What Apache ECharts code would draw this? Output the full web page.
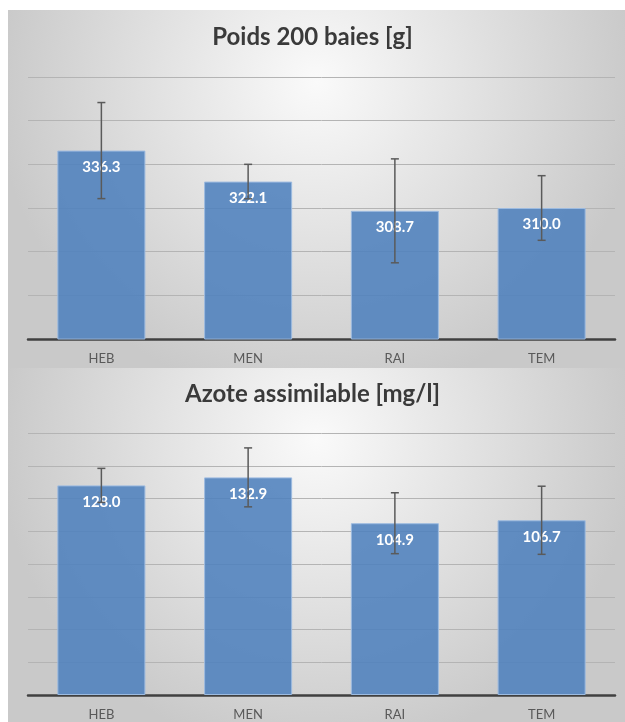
<!DOCTYPE html>
<html>
<head>
<meta charset="utf-8">
<script src="https://cdn.jsdelivr.net/npm/echarts@6/dist/echarts.min.js"></script>
<style>
  html, body { margin: 0; padding: 0; background: #fff; }
  #main { width: 625px; height: 722px; }
</style>
</head>
<body>
<div id="main"></div>
<script>
// data
var categories = ['HEB', 'MEN', 'RAI', 'TEM'];
var poidsValues = [336.3, 322.1, 308.7, 310.0];
var poidsErr = [22.0, 7.9, 23.8, 14.8];
var azoteValues = [128.0, 132.9, 104.9, 106.7];
var azoteErr = [10.4, 18.0, 18.6, 20.8];

var FONT = 'Lato, "Open Sans", sans-serif';

function panelBg() {
  return new echarts.graphic.RadialGradient(0.5, 0.2, 0.9, [
    { offset: 0, color: '#fafafa' },
    { offset: 1, color: '#c9c9c9' }
  ]);
}

function errData(vals, errs) {
  var out = [];
  for (var i = 0; i < vals.length; i++) out.push([i, vals[i], errs[i]]);
  return out;
}

function renderErr(params, api) {
  var x = api.value(0), v = api.value(1), e = api.value(2);
  var hi = api.coord([x, v + e]);
  var lo = api.coord([x, v - e]);
  var cap = 4;
  var st = { stroke: '#5a5a5a', lineWidth: 1.5 };
  return {
    type: 'group',
    children: [
      { type: 'line', shape: { x1: hi[0], y1: hi[1], x2: lo[0], y2: lo[1] }, style: st },
      { type: 'line', shape: { x1: hi[0] - cap, y1: hi[1], x2: hi[0] + cap, y2: hi[1] }, style: st },
      { type: 'line', shape: { x1: lo[0] - cap, y1: lo[1], x2: lo[0] + cap, y2: lo[1] }, style: st }
    ]
  };
}

function xAxisFor(gi) {
  return {
    type: 'category', gridIndex: gi, data: categories,
    axisLine: { lineStyle: { color: '#404040', width: 2.5 } },
    axisTick: { show: false },
    axisLabel: { color: '#595959', fontSize: 13, fontFamily: FONT, margin: 13 }
  };
}

function yAxisFor(gi, min, max) {
  return {
    type: 'value', gridIndex: gi, min: min, max: max, interval: 20,
    axisLine: { show: false }, axisTick: { show: false },
    axisLabel: { show: false },
    splitLine: { lineStyle: { color: '#b4b4b4', width: 1 } }
  };
}

function barSeries(idx, vals) {
  return {
    type: 'bar', xAxisIndex: idx, yAxisIndex: idx, data: vals,
    barWidth: '60%',
    itemStyle: { color: 'rgba(79,129,189,0.88)', borderColor: '#9dbbe0', borderWidth: 1 },
    label: {
      show: true, position: 'insideTop', distance: 9,
      color: '#ffffff', fontWeight: 'bold', fontSize: 15, fontFamily: FONT,
      formatter: function (p) { return p.value.toFixed(1); }
    },
    z: 2
  };
}

function errSeries(idx, vals, errs) {
  return {
    type: 'custom', xAxisIndex: idx, yAxisIndex: idx,
    data: errData(vals, errs), renderItem: renderErr,
    encode: { x: 0, y: 1 }, z: 3, silent: true
  };
}

var chart = echarts.init(document.getElementById('main'));
chart.setOption({
  animation: false,
  backgroundColor: '#ffffff',
  graphic: [
    { type: 'rect', shape: { x: 8, y: 10, width: 617, height: 358 }, style: { fill: panelBg() }, z: -10 },
    { type: 'rect', shape: { x: 8, y: 368, width: 617, height: 354 }, style: { fill: panelBg() }, z: -10 }
  ],
  title: [
    { text: 'Poids 200 baies [g]', left: 'center', top: 20,
      textStyle: { fontSize: 24, fontWeight: 'bold', color: '#3a3a3a', fontFamily: FONT } },
    { text: 'Azote assimilable [mg/l]', left: 'center', top: 377,
      textStyle: { fontSize: 24, fontWeight: 'bold', color: '#3a3a3a', fontFamily: FONT } }
  ],
  grid: [
    { left: 28, top: 77, width: 587, height: 262 },
    { left: 28, top: 433, width: 587, height: 262 }
  ],
  xAxis: [xAxisFor(0), xAxisFor(1)],
  yAxis: [yAxisFor(0, 250, 370), yAxisFor(1, 0, 160)],
  series: [
    barSeries(0, poidsValues),
    errSeries(0, poidsValues, poidsErr),
    barSeries(1, azoteValues),
    errSeries(1, azoteValues, azoteErr)
  ]
});
</script>
</body>
</html>
